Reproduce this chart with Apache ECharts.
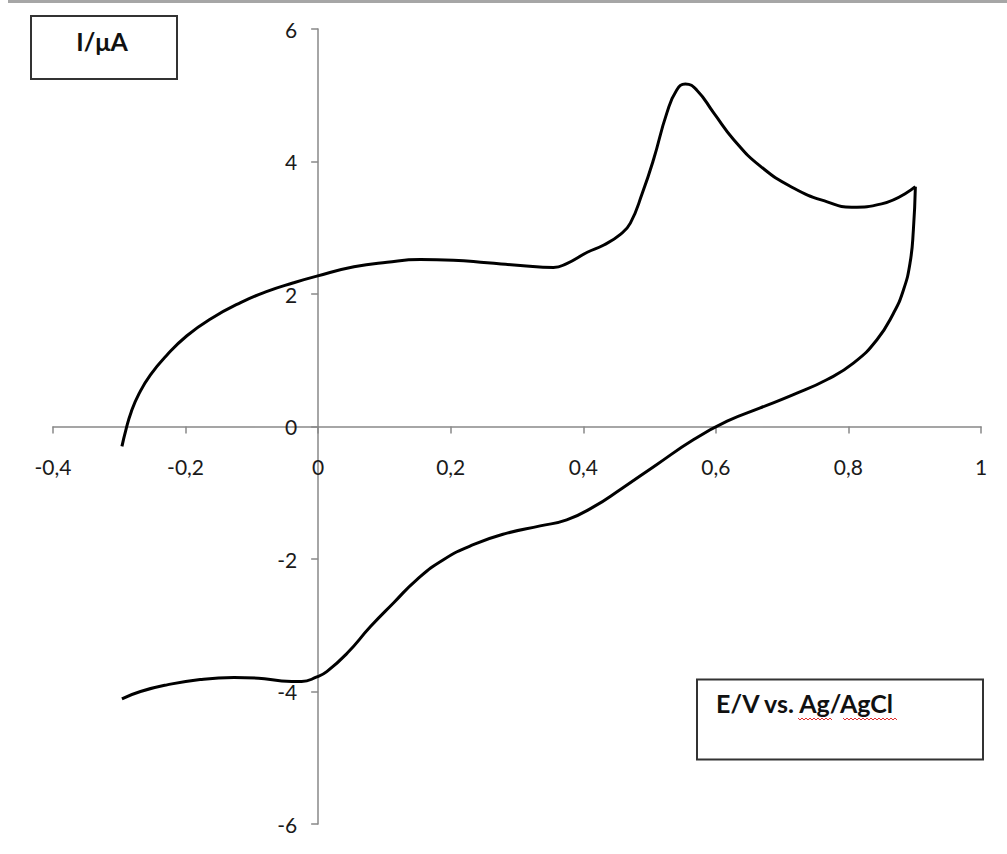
<!DOCTYPE html>
<html>
<head>
<meta charset="utf-8">
<style>html,body{margin:0;padding:0;background:#fff;}#c{width:1007px;height:854px;}</style>
<script src="https://cdn.jsdelivr.net/npm/echarts@6/dist/echarts.min.js"></script>
</head>
<body>
<div id="c"></div>
<script>
// Forward (anodic) scan
const forwardE = [-0.296,-0.290,-0.282,-0.270,-0.253,-0.228,-0.198,-0.163,-0.117,-0.077,-0.037,-0.002,0.054,0.104,0.154,0.204,0.255,0.305,0.355,0.375,0.406,0.431,0.456,0.471,0.489,0.506,0.526,0.541,0.554,0.571,0.597,0.627,0.667,0.717,0.768,0.805,0.850,0.901];
const forwardI = [-0.30,-0.05,0.22,0.50,0.78,1.08,1.37,1.62,1.87,2.04,2.17,2.27,2.41,2.48,2.52,2.51,2.47,2.43,2.40,2.46,2.63,2.74,2.90,3.07,3.52,4.03,4.73,5.08,5.17,5.08,4.73,4.33,3.93,3.60,3.39,3.31,3.36,3.62];
// Reverse (cathodic) scan
const reverseE = [0.901,0.898,0.893,0.883,0.868,0.843,0.808,0.768,0.717,0.667,0.617,0.566,0.510,0.456,0.416,0.375,0.335,0.285,0.235,0.189,0.149,0.114,0.079,0.044,0.013,-0.002,-0.025,-0.055,-0.090,-0.127,-0.178,-0.228,-0.268,-0.296];
const reverseI = [3.62,2.97,2.47,2.06,1.71,1.31,0.96,0.71,0.48,0.28,0.08,-0.20,-0.58,-0.95,-1.21,-1.41,-1.50,-1.61,-1.78,-2.01,-2.31,-2.66,-3.02,-3.42,-3.70,-3.78,-3.85,-3.84,-3.80,-3.79,-3.82,-3.90,-4.00,-4.11];
const xTicks = {min: -0.4, max: 1, step: 0.2};
const yTicks = {min: -6, max: 6, step: 2};
const yTitle = 'I/μA';
const xTitle = 'E/V vs. Ag/AgCl';

const zip = (a, b) => a.map((v, i) => [v, b[i]]);
const fmt = v => String(+v.toFixed(1)).replace('.', ',');
const axisColor = '#888888';
const labelStyle = {color: '#1a1a1a', fontFamily: 'Lato', fontSize: 21};

const G = {left: 53, right: 26, top: 29, bottom: 30};
const W = 1007, H = 854;
const plotW = W - G.left - G.right, plotH = H - G.top - G.bottom;
// offsets that bring each axis to the other's zero (derived from the scales)
const xAxisOffset = -plotH * (0 - yTicks.min) / (yTicks.max - yTicks.min);
const yAxisOffset = -plotW * (0 - xTicks.min) / (xTicks.max - xTicks.min);

const chart = echarts.init(document.getElementById('c'), null, {renderer: 'svg'});
const lineStyle = {color: '#000', width: 3};
chart.setOption({
  animation: false,
  grid: Object.assign({containLabel: false, outerBoundsMode: 'none'}, G),
  xAxis: {
    type: 'value', min: xTicks.min, max: xTicks.max, interval: xTicks.step,
    position: 'bottom', offset: xAxisOffset,
    axisLine: {onZero: false, lineStyle: {color: axisColor, width: 1.5}},
    axisTick: {show: true, length: 7, lineStyle: {color: axisColor, width: 1.5}},
    splitLine: {show: false},
    axisLabel: Object.assign({margin: 29, formatter: fmt}, labelStyle)
  },
  yAxis: {
    type: 'value', min: yTicks.min, max: yTicks.max, interval: yTicks.step,
    position: 'left', offset: yAxisOffset,
    axisLine: {show: true, onZero: false, lineStyle: {color: axisColor, width: 1.5}},
    axisTick: {show: true, length: 7, lineStyle: {color: axisColor, width: 1.5}},
    splitLine: {show: false},
    axisLabel: Object.assign({margin: 21, formatter: fmt}, labelStyle)
  },
  series: [
    {type: 'line', data: zip(forwardE, forwardI), smooth: 0.5, showSymbol: false, lineStyle: lineStyle, z: 5},
    {type: 'line', data: zip(reverseE, reverseI), smooth: 0.5, showSymbol: false, lineStyle: lineStyle, z: 5}
  ],
  graphic: [
    {type: 'rect', shape: {x: 8, y: 0, width: 1000, height: 3}, style: {fill: '#a6a6a6'}, silent: true},
    {type: 'rect', shape: {x: 31, y: 16, width: 146, height: 63}, style: {fill: '#fff', stroke: '#333', lineWidth: 2}},
    {type: 'text', x: 102, y: 41, style: {text: yTitle, fill: '#111', font: 'bold 25px Lato', align: 'center', verticalAlign: 'middle'}},
    {type: 'rect', shape: {x: 697, y: 679.5, width: 286, height: 80}, style: {fill: '#fff', stroke: '#333', lineWidth: 2}},
    {type: 'text', x: 716, y: 703, style: {text: xTitle, fill: '#111', font: 'bold 25px Lato', align: 'left', verticalAlign: 'middle'}},
    {type: 'polyline', shape: {points: [[798,718],[800,720],[802,718],[804,720],[806,718],[808,720],[810,718],[812,720],[814,718],[816,720],[818,718],[820,720],[822,718],[824,720],[826,718],[828,720],[830,718],[832,720]]}, style: {stroke: '#e03030', lineWidth: 1, fill: null}},
    {type: 'polyline', shape: {points: [[843,718],[845,720],[847,718],[849,720],[851,718],[853,720],[855,718],[857,720],[859,718],[861,720],[863,718],[865,720],[867,718],[869,720],[871,718],[873,720],[875,718],[877,720],[879,718],[881,720],[883,718],[885,720],[887,718],[889,720],[891,718],[893,720],[895,718],[897,720]]}, style: {stroke: '#e03030', lineWidth: 1, fill: null}}
  ]
});
</script>
</body>
</html>
